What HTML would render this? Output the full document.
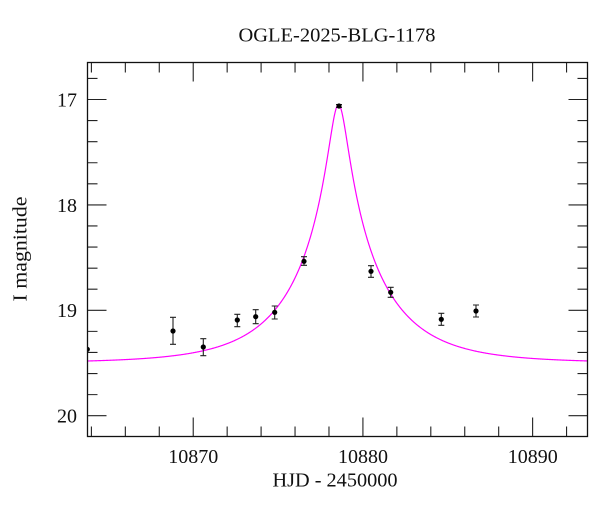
<!DOCTYPE html>
<html><head><meta charset="utf-8"><style>
html,body{margin:0;padding:0;background:#fff;}
svg{display:block;}
text{font-family:"Liberation Serif",serif;fill:#111;}
</style></head><body>
<svg id="s" width="600" height="512" viewBox="0 0 600 512" xmlns="http://www.w3.org/2000/svg">
<defs><clipPath id="c"><rect x="87.5" y="62.5" width="500" height="374"/></clipPath></defs>
<rect width="600" height="512" fill="#fff"/>
<text x="337" y="41.5" font-size="20" text-anchor="middle" textLength="197" lengthAdjust="spacingAndGlyphs">OGLE-2025-BLG-1178</text>
<text x="335" y="486.5" font-size="20" text-anchor="middle" textLength="125" lengthAdjust="spacingAndGlyphs">HJD - 2450000</text>
<text transform="translate(26.5,249) rotate(-90)" font-size="20" text-anchor="middle" textLength="105" lengthAdjust="spacingAndGlyphs">I magnitude</text>
<g font-size="20" text-anchor="middle">
<text x="193.3" y="463">10870</text>
<text x="363" y="463">10880</text>
<text x="532.7" y="463">10890</text>
</g>
<g font-size="20" text-anchor="end">
<text x="77" y="106.5">17</text>
<text x="77" y="211.8">18</text>
<text x="77" y="317.2">19</text>
<text x="77" y="422.6">20</text>
</g>
<g id="ticks" stroke="#222" stroke-width="1.1" fill="none"></g>
<path id="curve" clip-path="url(#c)" fill="none" stroke="#ff00ff" stroke-width="1.2" d=""/>
<g id="pts" clip-path="url(#c)" stroke="#222" stroke-width="1.1" fill="#000"></g>
<rect x="87.5" y="62.5" width="500" height="374" fill="none" stroke="#111" stroke-width="1.3"/>
</svg>
<script>
(function(){
var NS="http://www.w3.org/2000/svg";
var L=87.5,R=587.5,T=62.5,B=436.5;
function X(t){return L+(t-10863.77)*16.97;}
function Y(m){return 99.5+(m-17)*105.4;}
var tk=document.getElementById('ticks'),d='';
for(var t=10864;t<=10893;t+=2){var x=X(t);var len=(t%10==0)?19:10;
 d+='M'+x.toFixed(2)+','+B+'V'+(B-len)+'M'+x.toFixed(2)+','+T+'V'+(T+len);}
for(var i=0;i<=16;i++){var m=16.8+i*0.2;var y=Y(m);if(y<T||y>B)continue;
 var maj=Math.abs(m-Math.round(m))<0.01;var len=maj?19:10;
 d+='M'+L+','+y.toFixed(2)+'H'+(L+len)+'M'+R+','+y.toFixed(2)+'H'+(R-len);}
var p=document.createElementNS(NS,'path');p.setAttribute('d',d);tk.appendChild(p);
var t0=10878.56,tE=5,u0=0.105,I0=19.5;
function A(u){return (u*u+2)/(u*Math.sqrt(u*u+4));}
var c='';
for(var i=0;i<=1000;i++){var t=10863.6+i*(29.8/1000);var tau=(t-t0)/tE;var u=Math.sqrt(u0*u0+tau*tau);
 var m=I0-2.5*Math.log10(A(u));c+=(i?'L':'M')+X(t).toFixed(2)+','+Y(m).toFixed(2);}
document.getElementById('curve').setAttribute('d',c);
var pts=[[87.3,349.3,349.3,349.3],[173,331,317.3,344.3],[203.3,347,338.7,355.7],[237.3,320,314.3,326.7],
[255.7,316.7,309.7,323.7],[274.7,312.3,306,319],[304,261.3,256.7,265.3],[339,106,104.5,107.5],
[371,271.3,265.7,277.3],[390.7,292.3,287.3,297.3],[441.3,319.3,313.3,325.3],[476,311,305,317]];
var g=document.getElementById('pts');
pts.forEach(function(q){
 if(q[3]>q[2]){
 var e=document.createElementNS(NS,'path');
 e.setAttribute('d','M'+q[0]+','+q[2]+'V'+q[3]+'M'+(q[0]-3)+','+q[2]+'H'+(q[0]+3)+'M'+(q[0]-3)+','+q[3]+'H'+(q[0]+3));
 e.setAttribute('fill','none');g.appendChild(e);}
 var ci=document.createElementNS(NS,'circle');ci.setAttribute('cx',q[0]);ci.setAttribute('cy',q[1]);ci.setAttribute('r','2.6');
 ci.setAttribute('stroke','none');g.appendChild(ci);
});
})();
</script>
</body></html>
